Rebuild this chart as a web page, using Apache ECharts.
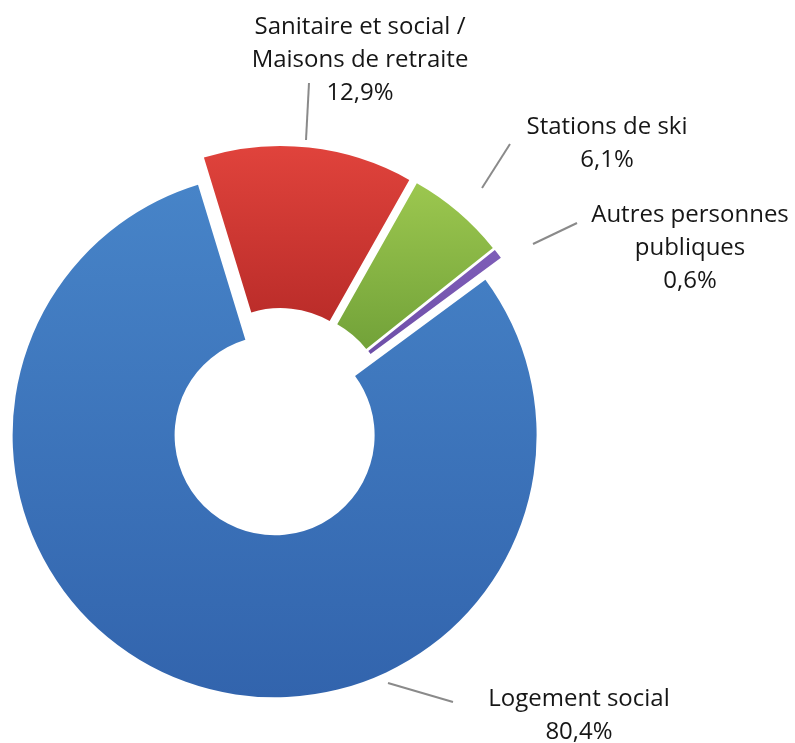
<!DOCTYPE html>
<html>
<head>
<meta charset="utf-8">
<script src="https://cdn.jsdelivr.net/npm/echarts@6/dist/echarts.min.js"></script>
<style>
html,body{margin:0;padding:0;background:#fff;}
#chart{width:795px;height:743px;}
</style>
</head>
<body>
<div id="chart"></div>
<script>
const categories = ['Sanitaire et social /\nMaisons de retraite', 'Stations de ski', 'Autres personnes\npubliques', 'Logement social'];
const values = [12.9, 6.1, 0.6, 80.4];
const valueLabels = ['12,9%', '6,1%', '0,6%', '80,4%'];

const colorsTop = ['#E0433C', '#9CC74F', '#7E5DB8', '#4784C8'];
const colorsBottom = ['#BA2C29', '#72A239', '#6E4FA8', '#3264AD'];

// label placement (layout only)
const labelLayoutCfg = [
  {x: 360, y: 60, line: [[306, 140], [309, 83]]},
  {x: 607, y: 144, line: [[482, 188], [510, 144]]},
  {x: 690, y: 248, line: [[533, 244], [577, 223]]},
  {x: 579, y: 716, line: [[388, 683], [453, 702]]}
];

const chart = echarts.init(document.getElementById('chart'), null, {renderer: 'canvas'});

const sliceData = categories.map((c, i) => ({
  name: c,
  value: values[i],
  selected: true,
  itemStyle: {
    color: new echarts.graphic.LinearGradient(0, 0, 0, 1, [
      {offset: 0, color: colorsTop[i]},
      {offset: 1, color: colorsBottom[i]}
    ])
  }
}));

const labelData = categories.map((c, i) => ({
  name: c,
  value: values[i],
  label: {formatter: c + '\n' + valueLabels[i]}
}));

const common = {
  type: 'pie',
  center: [279, 422],
  radius: [100, 262],
  startAngle: 107,
  clockwise: true,
  avoidLabelOverlap: false,
  emphasis: {disabled: true}
};

chart.setOption({
  animation: false,
  series: [
    Object.assign({}, common, {
      selectedMode: 'multiple',
      selectedOffset: 14,
      silent: true,
      itemStyle: {borderWidth: 0},
      label: {show: false},
      labelLine: {show: false},
      data: sliceData
    }),
    Object.assign({}, common, {
      silent: true,
      itemStyle: {color: 'rgba(0,0,0,0)', borderWidth: 0},
      label: {
        show: true,
        position: 'outside',
        color: '#161616',
        fontFamily: 'Open Sans',
        fontSize: 24,
        lineHeight: 33,
        align: 'center'
      },
      labelLine: {
        show: true,
        lineStyle: {color: '#8a8a8a', width: 2}
      },
      labelLayout: function (params) {
        const L = labelLayoutCfg[params.dataIndex];
        return {
          x: L.x,
          y: L.y,
          align: 'center',
          verticalAlign: 'middle',
          labelLinePoints: L.line
        };
      },
      data: labelData
    })
  ]
});
</script>
</body>
</html>
